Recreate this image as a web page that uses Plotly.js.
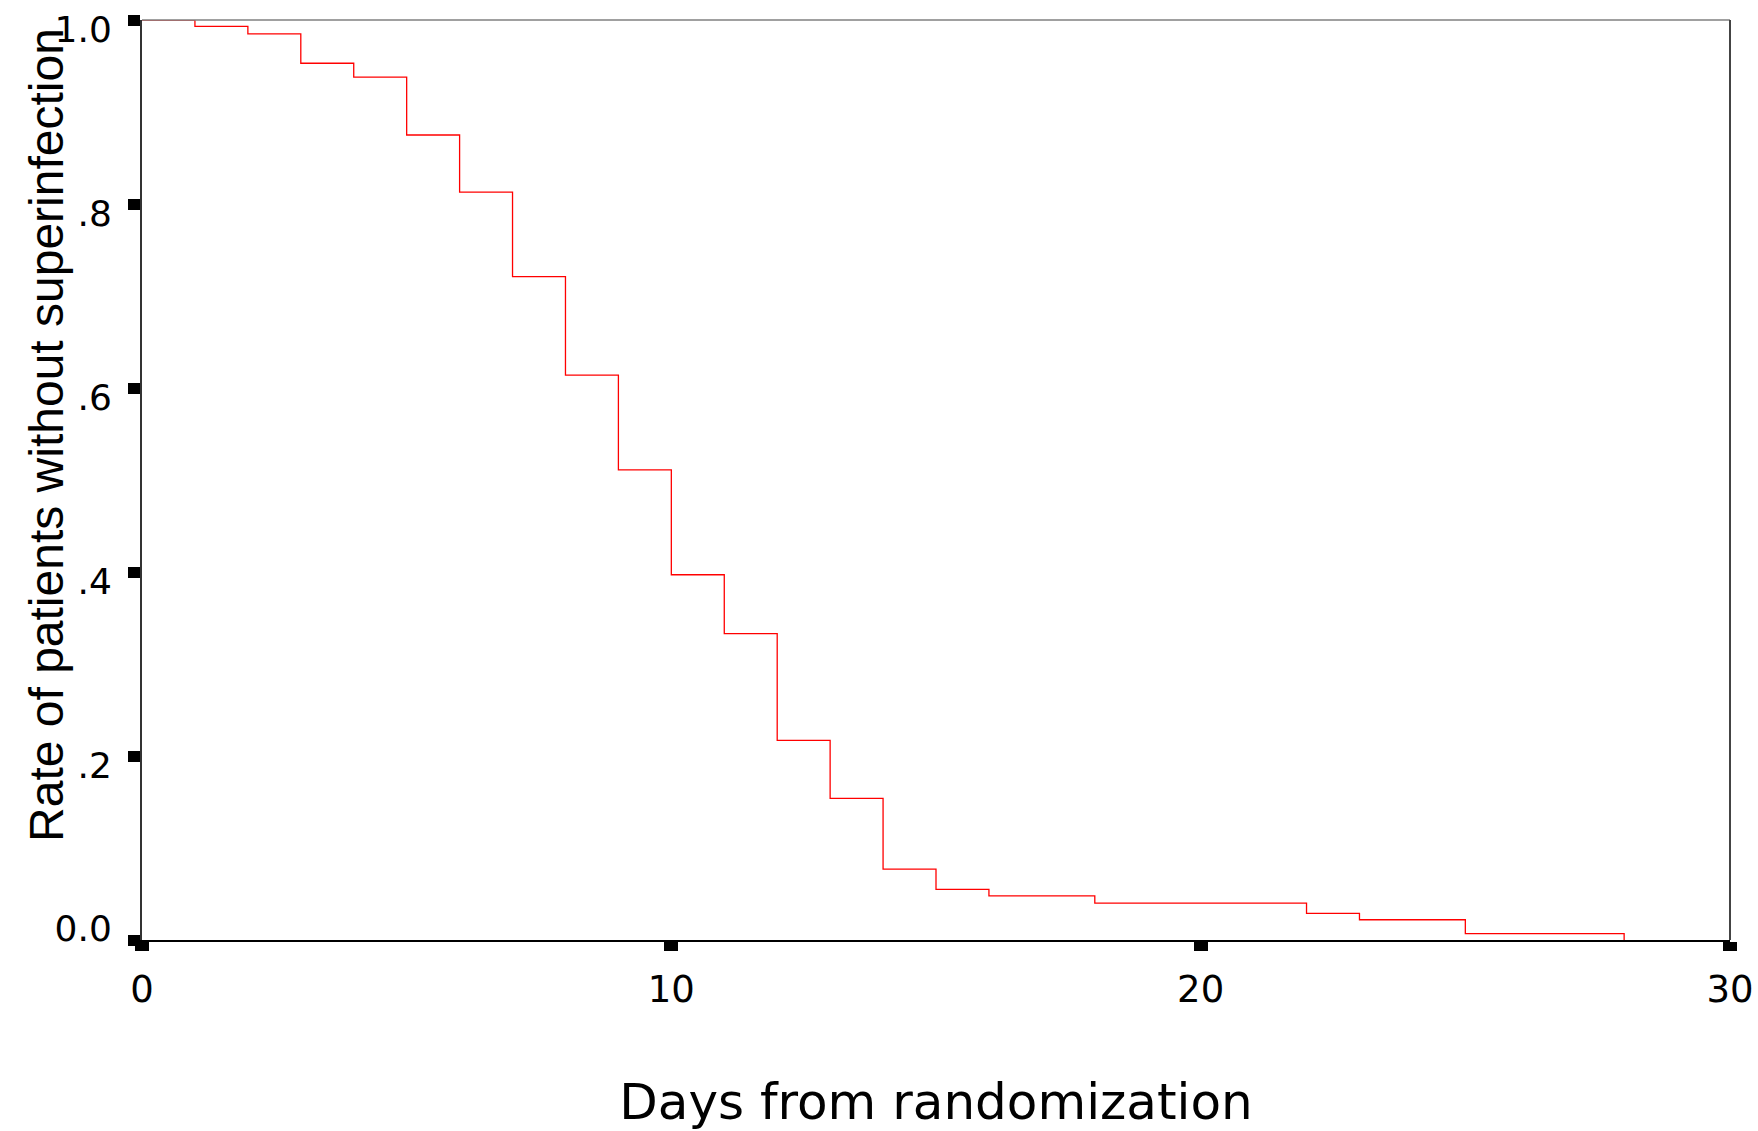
<!DOCTYPE html>
<html>
<head>
<meta charset="utf-8">
<script src="https://cdn.plot.ly/plotly-3.0.1.min.js"></script>
<style>
  html, body { margin: 0; padding: 0; background: #ffffff; }
  #chart { width: 1758px; height: 1131px; }
</style>
</head>
<body>
<div id="chart"></div>
<script>
// Kaplan-Meier style step curve: days from randomization vs. rate without superinfection
const days = [0, 1, 2, 3, 4, 5, 6, 7, 8, 9, 10, 11, 12, 13, 14, 15, 16, 18, 22, 23, 25, 28];
const rateWithoutSuperinfection = [1.0, 0.993, 0.985, 0.953, 0.938, 0.875, 0.813, 0.721, 0.614, 0.511, 0.397, 0.333, 0.217, 0.154, 0.077, 0.055, 0.048, 0.040, 0.029, 0.022, 0.007, 0.0];

const xTickVals = [0, 10, 20, 30];
const xTickText = ['0', '10', '20', '30'];
const yTickVals = [0, 0.2, 0.4, 0.6, 0.8, 1.0];
const yTickText = ['0.0', '.2', '.4', '.6', '.8', '1.0'];

const xTitle = 'Days from randomization';
const yTitle = 'Rate of patients without superinfection';

const tickFont = { family: 'DejaVu Sans, sans-serif', size: 36, color: '#000000' };

// plot height in px, used to offset the tick-label axes by a few pixels
const plotH = 920;
const downShift = 9 / plotH;   // labels .2 .. 1.0 sit slightly below their ticks
const upShift = 12 / plotH;    // label 0.0 sits slightly above its tick

const curve = {
  x: days,
  y: rateWithoutSuperinfection,
  type: 'scatter',
  mode: 'lines',
  line: { shape: 'hv', color: '#ff0000', width: 1.3 },
  hoverinfo: 'x+y',
  showlegend: false
};
const labelHolder2 = { x: [], y: [], type: 'scatter', mode: 'lines', yaxis: 'y2', showlegend: false, hoverinfo: 'skip' };
const labelHolder3 = { x: [], y: [], type: 'scatter', mode: 'lines', yaxis: 'y3', showlegend: false, hoverinfo: 'skip' };

const labelAxisBase = {
  overlaying: 'y',
  side: 'left',
  anchor: 'x',
  showgrid: false,
  zeroline: false,
  showline: false,
  ticks: 'outside',
  ticklen: 12,
  tickwidth: 1,
  tickcolor: 'rgba(0,0,0,0)',
  tickfont: tickFont,
  ticklabelstandoff: 10,
  automargin: false,
  fixedrange: true
};

const layout = {
  width: 1758,
  height: 1131,
  paper_bgcolor: '#ffffff',
  plot_bgcolor: '#ffffff',
  margin: { l: 142, r: 28, t: 20, b: 191, pad: 0 },
  showlegend: false,
  xaxis: {
    range: [0, 30],
    showgrid: false,
    zeroline: false,
    showline: true,
    linecolor: '#000000',
    linewidth: 1.5,
    ticks: 'outside',
    ticklen: 9,
    tickwidth: 14,
    tickcolor: '#000000',
    tickvals: xTickVals,
    ticktext: xTickText,
    tickfont: { family: 'DejaVu Sans, sans-serif', size: 37, color: '#000000' },
    ticklabelstandoff: 7,
    title: {
      text: xTitle,
      font: { family: 'DejaVu Sans, sans-serif', size: 50, color: '#000000' },
      standoff: 80
    },
    automargin: false,
    fixedrange: true
  },
  yaxis: {
    range: [0, 1],
    showgrid: false,
    zeroline: false,
    showline: true,
    linecolor: '#333333',
    linewidth: 2,
    ticks: 'outside',
    ticklen: 12,
    tickwidth: 11,
    tickcolor: '#000000',
    tickvals: yTickVals,
    showticklabels: false,
    automargin: false,
    fixedrange: true
  },
  yaxis2: Object.assign({}, labelAxisBase, {
    range: [downShift, 1 + downShift],
    tickvals: yTickVals.slice(1),
    ticktext: yTickText.slice(1)
  }),
  yaxis3: Object.assign({}, labelAxisBase, {
    range: [-upShift, 1 - upShift],
    tickvals: yTickVals.slice(0, 1),
    ticktext: yTickText.slice(0, 1)
  }),
  shapes: [
    { type: 'line', xref: 'paper', yref: 'paper', x0: 0, x1: 1, y0: 1, y1: 1,
      line: { color: '#808080', width: 1.5 } },
    { type: 'line', xref: 'paper', yref: 'paper', x0: 1, x1: 1, y0: 0, y1: 1,
      line: { color: '#444444', width: 2 } }
  ],
  annotations: [
    {
      text: yTitle,
      xref: 'paper', yref: 'paper',
      x: -0.0598, y: 0.549,
      xanchor: 'center', yanchor: 'middle',
      textangle: -90,
      showarrow: false,
      font: { family: 'Liberation Sans, Arial, sans-serif', size: 48, color: '#000000' }
    }
  ]
};

Plotly.newPlot('chart', [curve, labelHolder2, labelHolder3], layout, { displayModeBar: false, staticPlot: true });
</script>
</body>
</html>
